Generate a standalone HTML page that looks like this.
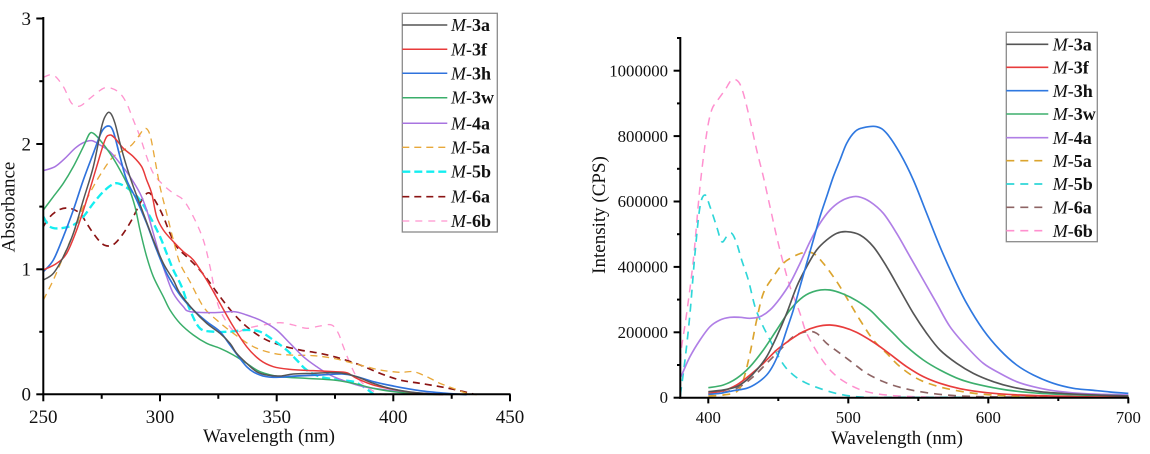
<!DOCTYPE html>
<html><head><meta charset="utf-8"><style>
html,body{margin:0;padding:0;background:#fff;}
svg{display:block;}
text{font-family:"Liberation Serif",serif;fill:#111;}
</style></head><body>
<svg id="chart" width="1150" height="454" viewBox="0 0 1150 454" xmlns="http://www.w3.org/2000/svg">
<rect width="1150" height="454" fill="#fff"/>

<!-- ===== LEFT CHART ===== -->
<g fill="none" stroke-linejoin="round" stroke-linecap="butt" transform="scale(0.333333)">
  <polyline stroke="#ff94cf" stroke-width="4" stroke-dasharray="21 18" points="130,232 160,225 190,260 215,310 240,318 270,295 310,265 335,265 360,280 380,310 400,360 420,410 440,470 460,520 490,555 520,580 550,600 580,650 610,720 630,800 650,900 670,950 705,995 740,985 790,975 840,968 880,975 920,985 960,978 995,975 1015,1000 1030,1040 1050,1090 1070,1130 1100,1160 1130,1178 1160,1185"/>
  <polyline stroke="#8b1414" stroke-width="5" stroke-dasharray="21 15" points="130,680 150,650 180,628 210,625 240,640 260,670 280,700 305,730 325,738 345,730 370,700 395,660 420,610 435,585 450,580 470,610 490,650 510,700 530,740 560,770 590,800 620,835 660,890 700,940 740,980 790,1015 840,1035 900,1050 960,1060 1020,1075 1080,1095 1140,1120 1200,1140 1260,1150 1320,1160 1370,1170 1420,1182"/>
  <polyline stroke="#14eef0" stroke-width="7" stroke-dasharray="24 12" points="130,650 150,680 180,685 220,675 250,650 280,610 310,575 340,552 360,552 390,570 420,600 450,650 480,710 500,760 520,810 545,860 570,930 600,985 640,995 690,995 740,990 780,995 820,1020 860,1050 890,1080 920,1110 960,1130 1020,1140 1060,1145 1090,1160 1120,1182"/>
  <polyline stroke="#e8a83a" stroke-width="4" stroke-dasharray="21 15" points="130,900 160,840 190,770 220,700 250,620 280,560 310,510 340,470 375,448 395,435 415,410 435,385 450,405 465,480 480,560 500,640 520,720 540,790 570,845 610,920 650,960 700,1000 760,1040 820,1060 870,1065 940,1067 1000,1075 1060,1090 1100,1100 1140,1110 1200,1117 1240,1115 1280,1130 1320,1150 1360,1165 1400,1180 1430,1184"/>
  <polyline stroke="#a874e0" stroke-width="4.5" points="130,512 165,500 195,475 225,445 250,428 275,422 300,435 330,455 360,490 390,530 420,580 440,630 460,700 480,770 500,830 520,880 550,920 570,935 640,938 700,935 740,945 790,965 830,990 870,1030 910,1070 950,1100 990,1125 1040,1145 1090,1160 1160,1170 1240,1178 1340,1183"/>
  <polyline stroke="#3aae6a" stroke-width="4.5" points="130,630 160,590 190,550 220,500 250,440 268,402 280,400 300,420 330,460 360,510 385,560 405,620 420,690 440,770 460,830 490,890 510,930 540,970 580,1005 620,1030 660,1045 700,1065 740,1090 780,1115 840,1130 920,1135 1000,1140 1060,1150 1120,1165 1180,1175 1260,1182 1330,1184"/>
  <polyline stroke="#2f72dc" stroke-width="5" points="130,815 160,780 190,710 220,630 250,540 280,460 305,395 325,378 340,395 360,470 380,540 410,600 440,670 470,750 500,820 540,885 580,930 620,965 660,995 690,1035 740,1100 780,1125 820,1132 890,1128 960,1125 1030,1122 1070,1130 1120,1145 1180,1158 1260,1172 1340,1180 1400,1184"/>
  <polyline stroke="#e83a3a" stroke-width="4.5" points="130,810 170,790 200,760 230,690 260,600 290,500 315,420 330,405 345,415 370,445 400,470 425,500 440,540 455,580 470,650 490,690 520,725 550,755 580,780 620,840 660,910 700,980 740,1040 780,1080 820,1100 870,1108 940,1112 1000,1115 1040,1118 1070,1135 1120,1155 1190,1170 1260,1180 1330,1184"/>
  <polyline stroke="#555" stroke-width="4.5" points="130,840 160,820 190,770 220,700 250,600 280,500 305,380 320,342 332,340 345,370 360,430 380,500 400,560 430,640 460,720 490,790 520,840 540,880 580,930 620,970 660,1000 690,1030 710,1060 740,1090 770,1115 800,1125 840,1128 880,1122 940,1120 990,1118 1030,1120 1070,1130 1120,1150 1170,1165 1230,1176 1300,1182 1360,1184"/>
</g>

<!-- left axes -->
<g stroke="#000" stroke-width="2" fill="none">
  <line x1="43.3" y1="17" x2="43.3" y2="395.3"/>
  <line x1="42.3" y1="394.3" x2="510.5" y2="394.3"/>
  <line x1="36.3" y1="18.5" x2="43.3" y2="18.5"/>
  <line x1="36.3" y1="144" x2="43.3" y2="144"/>
  <line x1="36.3" y1="269.3" x2="43.3" y2="269.3"/>
  <line x1="36.3" y1="394.3" x2="43.3" y2="394.3"/>
  <line x1="39.3" y1="81.2" x2="43.3" y2="81.2"/>
  <line x1="39.3" y1="206.6" x2="43.3" y2="206.6"/>
  <line x1="39.3" y1="331.8" x2="43.3" y2="331.8"/>
  <line x1="43.3" y1="394.3" x2="43.3" y2="401.3"/>
  <line x1="160" y1="394.3" x2="160" y2="401.3"/>
  <line x1="276.7" y1="394.3" x2="276.7" y2="401.3"/>
  <line x1="393.3" y1="394.3" x2="393.3" y2="401.3"/>
  <line x1="510" y1="394.3" x2="510" y2="401.3"/>
  <line x1="101.7" y1="394.3" x2="101.7" y2="398.8"/>
  <line x1="218.3" y1="394.3" x2="218.3" y2="398.8"/>
  <line x1="335" y1="394.3" x2="335" y2="398.8"/>
  <line x1="451.7" y1="394.3" x2="451.7" y2="398.8"/>
</g>
<g font-size="19">
  <text x="31" y="25" text-anchor="end">3</text>
  <text x="31" y="150.5" text-anchor="end">2</text>
  <text x="31" y="275.5" text-anchor="end">1</text>
  <text x="31" y="400.5" text-anchor="end">0</text>
  <text x="43.3" y="423" text-anchor="middle">250</text>
  <text x="160" y="423" text-anchor="middle">300</text>
  <text x="276.7" y="423" text-anchor="middle">350</text>
  <text x="393.3" y="423" text-anchor="middle">400</text>
  <text x="510" y="423" text-anchor="middle">450</text>
  <text x="269" y="442" text-anchor="middle">Wavelength (nm)</text>
  <text transform="translate(14.5,207) rotate(-90)" text-anchor="middle">Absorbance</text>
</g>

<!-- left legend -->
<rect x="402.3" y="13.3" width="95" height="218.7" fill="#fff" stroke="#8a8a8a" stroke-width="1.3"/>
<g fill="none">
  <line x1="402.3" y1="25" x2="447.3" y2="25" stroke="#555" stroke-width="1.5"/>
  <line x1="402.3" y1="49.3" x2="447.3" y2="49.3" stroke="#e83a3a" stroke-width="1.5"/>
  <line x1="402.3" y1="73.3" x2="447.3" y2="73.3" stroke="#2f72dc" stroke-width="1.5"/>
  <line x1="402.3" y1="97.7" x2="447.3" y2="97.7" stroke="#3aae6a" stroke-width="1.5"/>
  <line x1="402.3" y1="123.3" x2="447.3" y2="123.3" stroke="#a874e0" stroke-width="1.5"/>
  <line x1="402.3" y1="147.3" x2="447.3" y2="147.3" stroke="#e8a83a" stroke-width="1.3" stroke-dasharray="7 5"/>
  <line x1="402.3" y1="171.7" x2="447.3" y2="171.7" stroke="#14eef0" stroke-width="2.4" stroke-dasharray="8 4"/>
  <line x1="402.3" y1="196.7" x2="447.3" y2="196.7" stroke="#8b1414" stroke-width="1.7" stroke-dasharray="7 5"/>
  <line x1="402.3" y1="221" x2="447.3" y2="221" stroke="#ff94cf" stroke-width="1.3" stroke-dasharray="7 6"/>
</g>
<g font-size="18">
  <text x="451" y="31"><tspan font-style="italic">M</tspan>-<tspan font-weight="bold">3a</tspan></text>
  <text x="451" y="55.3"><tspan font-style="italic">M</tspan>-<tspan font-weight="bold">3f</tspan></text>
  <text x="451" y="79.3"><tspan font-style="italic">M</tspan>-<tspan font-weight="bold">3h</tspan></text>
  <text x="451" y="103.7"><tspan font-style="italic">M</tspan>-<tspan font-weight="bold">3w</tspan></text>
  <text x="451" y="129.3"><tspan font-style="italic">M</tspan>-<tspan font-weight="bold">4a</tspan></text>
  <text x="451" y="153.3"><tspan font-style="italic">M</tspan>-<tspan font-weight="bold">5a</tspan></text>
  <text x="451" y="177.7"><tspan font-style="italic">M</tspan>-<tspan font-weight="bold">5b</tspan></text>
  <text x="451" y="202.7"><tspan font-style="italic">M</tspan>-<tspan font-weight="bold">6a</tspan></text>
  <text x="451" y="227"><tspan font-style="italic">M</tspan>-<tspan font-weight="bold">6b</tspan></text>
</g>

<!-- ===== RIGHT CHART ===== -->
<g fill="none" stroke-linejoin="round" transform="translate(670,60) scale(0.333333)">
  <polyline stroke="#ff90cf" stroke-width="4.5" stroke-dasharray="24 18" points="31,905 35,860 50,760 70,600 90,380 110,220 125,150 140,125 165,90 185,60 205,65 220,100 240,180 260,270 280,350 300,440 320,530 340,610 360,680 390,760 410,820 450,890 490,940 540,975 590,995 650,1005 730,1010 830,1012 950,1012"/>
  <polyline stroke="#2fd6d8" stroke-width="5" stroke-dasharray="24 18" points="31,1005 45,900 60,760 75,580 90,440 105,405 120,440 140,500 155,545 170,530 185,520 200,550 215,600 235,660 255,740 275,790 300,840 320,880 345,920 370,945 400,965 440,982 490,998 540,1008 590,1012 700,1012 900,1012"/>
  <polyline stroke="#8e6464" stroke-width="5" stroke-dasharray="24 18" points="115,1003 170,995 210,980 250,950 290,910 330,870 370,830 410,815 440,820 470,850 510,880 550,910 590,940 640,965 690,982 750,995 830,1005 930,1010 1100,1012"/>
  <polyline stroke="#dba42e" stroke-width="5" stroke-dasharray="24 18" points="115,1008 160,1005 200,995 220,960 240,880 260,780 280,700 310,650 340,610 370,590 400,578 430,580 460,610 490,650 510,680 540,730 570,780 610,840 650,880 690,920 740,955 790,975 850,990 930,1002 1030,1008 1200,1012"/>
  <polyline stroke="#b07fe6" stroke-width="5" points="31,950 35,945 60,890 90,840 120,800 150,780 180,772 210,772 240,775 270,770 300,750 330,715 360,670 390,610 420,545 450,490 480,450 510,425 540,412 565,410 600,425 640,460 680,520 720,590 760,660 800,730 840,800 890,860 940,910 990,940 1040,965 1090,980 1150,992 1230,1000 1300,1003 1375,1005"/>
  <polyline stroke="#3daf6d" stroke-width="5" points="115,983 160,975 200,955 240,920 280,870 320,810 360,750 400,710 440,692 480,690 520,702 560,722 600,750 630,780 670,820 710,860 760,900 810,930 870,958 930,975 1010,990 1110,1000 1230,1005 1375,1008"/>
  <polyline stroke="#e83c3c" stroke-width="5" points="115,1000 160,992 200,975 240,945 280,910 320,870 360,840 400,815 440,800 480,795 520,802 560,817 600,840 630,860 670,890 710,920 760,950 810,970 870,986 950,998 1050,1005 1230,1010 1375,1011"/>
  <polyline stroke="#555" stroke-width="5" points="115,995 160,990 200,980 230,960 260,930 290,890 320,830 350,760 380,680 410,620 440,570 470,540 500,520 530,515 570,525 610,560 650,620 690,690 730,760 770,820 810,870 860,910 910,940 970,965 1030,982 1110,995 1230,1003 1375,1008"/>
  <polyline stroke="#2f78e0" stroke-width="5" points="115,1003 150,1000 190,992 230,985 260,970 290,945 310,915 330,870 350,810 370,750 390,680 410,610 430,540 450,470 470,410 490,350 510,300 530,250 555,215 580,203 620,200 650,220 690,280 730,360 770,460 810,560 850,650 890,730 940,810 990,870 1040,915 1090,945 1150,970 1210,985 1260,990 1320,996 1375,1000"/>
</g>

<!-- right axes -->
<g stroke="#000" stroke-width="2" fill="none">
  <line x1="680.3" y1="37" x2="680.3" y2="398.7"/>
  <line x1="679.3" y1="397.7" x2="1129" y2="397.7"/>
  <line x1="673.6" y1="397.7" x2="680.3" y2="397.7"/>
  <line x1="673.6" y1="332.3" x2="680.3" y2="332.3"/>
  <line x1="673.6" y1="266.9" x2="680.3" y2="266.9"/>
  <line x1="673.6" y1="201.5" x2="680.3" y2="201.5"/>
  <line x1="673.6" y1="136.1" x2="680.3" y2="136.1"/>
  <line x1="673.6" y1="70.7" x2="680.3" y2="70.7"/>
  <line x1="677" y1="365" x2="680.3" y2="365"/>
  <line x1="677" y1="299.6" x2="680.3" y2="299.6"/>
  <line x1="677" y1="234.2" x2="680.3" y2="234.2"/>
  <line x1="677" y1="168.8" x2="680.3" y2="168.8"/>
  <line x1="677" y1="103.4" x2="680.3" y2="103.4"/>
  <line x1="677" y1="38" x2="680.3" y2="38"/>
  <line x1="708.3" y1="397.7" x2="708.3" y2="403.4"/>
  <line x1="848.3" y1="397.7" x2="848.3" y2="403.4"/>
  <line x1="988.3" y1="397.7" x2="988.3" y2="403.4"/>
  <line x1="1128.3" y1="397.7" x2="1128.3" y2="403.4"/>
  <line x1="778.3" y1="397.7" x2="778.3" y2="401"/>
  <line x1="918.3" y1="397.7" x2="918.3" y2="401"/>
  <line x1="1058.3" y1="397.7" x2="1058.3" y2="401"/>
</g>
<g font-size="16.8">
  <text x="668" y="403" text-anchor="end">0</text>
  <text x="668" y="338" text-anchor="end">200000</text>
  <text x="668" y="272.6" text-anchor="end">400000</text>
  <text x="668" y="207.2" text-anchor="end">600000</text>
  <text x="668" y="141.8" text-anchor="end">800000</text>
  <text x="668" y="76.4" text-anchor="end">1000000</text>
  <text x="708.3" y="423" text-anchor="middle">400</text>
  <text x="848.3" y="423" text-anchor="middle">500</text>
  <text x="988.3" y="423" text-anchor="middle">600</text>
  <text x="1128.3" y="423" text-anchor="middle">700</text>
</g>
<g font-size="19">
  <text x="897" y="444" text-anchor="middle">Wavelength (nm)</text>
  <text transform="translate(605,215) rotate(-90)" text-anchor="middle">Intensity (CPS)</text>
</g>

<!-- right legend -->
<rect x="1006.3" y="32.3" width="91" height="209.4" fill="#fff" stroke="#8a8a8a" stroke-width="1.3"/>
<g fill="none">
  <line x1="1006.3" y1="44.3" x2="1048.3" y2="44.3" stroke="#555" stroke-width="1.6"/>
  <line x1="1006.3" y1="67.3" x2="1048.3" y2="67.3" stroke="#e83c3c" stroke-width="1.6"/>
  <line x1="1006.3" y1="90.7" x2="1048.3" y2="90.7" stroke="#2f78e0" stroke-width="1.6"/>
  <line x1="1006.3" y1="114" x2="1048.3" y2="114" stroke="#3daf6d" stroke-width="1.6"/>
  <line x1="1006.3" y1="137.7" x2="1048.3" y2="137.7" stroke="#b07fe6" stroke-width="1.6"/>
  <line x1="1006.3" y1="160.7" x2="1048.3" y2="160.7" stroke="#dba42e" stroke-width="1.7" stroke-dasharray="8 6"/>
  <line x1="1006.3" y1="184" x2="1048.3" y2="184" stroke="#2fd6d8" stroke-width="1.7" stroke-dasharray="8 6"/>
  <line x1="1006.3" y1="207.3" x2="1048.3" y2="207.3" stroke="#8e6464" stroke-width="1.7" stroke-dasharray="8 6"/>
  <line x1="1006.3" y1="230.7" x2="1048.3" y2="230.7" stroke="#ff90cf" stroke-width="1.7" stroke-dasharray="8 6"/>
</g>
<g font-size="18">
  <text x="1052.7" y="50.5"><tspan font-style="italic">M</tspan>-<tspan font-weight="bold">3a</tspan></text>
  <text x="1052.7" y="73.5"><tspan font-style="italic">M</tspan>-<tspan font-weight="bold">3f</tspan></text>
  <text x="1052.7" y="96.9"><tspan font-style="italic">M</tspan>-<tspan font-weight="bold">3h</tspan></text>
  <text x="1052.7" y="120.2"><tspan font-style="italic">M</tspan>-<tspan font-weight="bold">3w</tspan></text>
  <text x="1052.7" y="143.9"><tspan font-style="italic">M</tspan>-<tspan font-weight="bold">4a</tspan></text>
  <text x="1052.7" y="166.9"><tspan font-style="italic">M</tspan>-<tspan font-weight="bold">5a</tspan></text>
  <text x="1052.7" y="190.2"><tspan font-style="italic">M</tspan>-<tspan font-weight="bold">5b</tspan></text>
  <text x="1052.7" y="213.5"><tspan font-style="italic">M</tspan>-<tspan font-weight="bold">6a</tspan></text>
  <text x="1052.7" y="236.9"><tspan font-style="italic">M</tspan>-<tspan font-weight="bold">6b</tspan></text>
</g>
</svg>
<script>
(function(){
  var NS="http://www.w3.org/2000/svg";
  var pls=document.querySelectorAll("#chart polyline");
  for(var k=0;k<pls.length;k++){
    var pl=pls[k];
    var raw=pl.getAttribute("points").trim().split(/\s+/);
    var p=[];
    for(var i=0;i<raw.length;i++){var a=raw[i].split(",");p.push([+a[0],+a[1]]);}
    if(p.length<3) continue;
    var d="M"+p[0][0]+","+p[0][1];
    for(var i=0;i<p.length-1;i++){
      var p0=p[i>0?i-1:i],p1=p[i],p2=p[i+1],p3=p[i+2<p.length?i+2:i+1];
      var c1x=p1[0]+(p2[0]-p0[0])/6,c1y=p1[1]+(p2[1]-p0[1])/6;
      var c2x=p2[0]-(p3[0]-p1[0])/6,c2y=p2[1]-(p3[1]-p1[1])/6;
      d+=" C"+c1x.toFixed(1)+","+c1y.toFixed(1)+" "+c2x.toFixed(1)+","+c2y.toFixed(1)+" "+p2[0]+","+p2[1];
    }
    var path=document.createElementNS(NS,"path");
    for(var j=0;j<pl.attributes.length;j++){
      var at=pl.attributes[j];
      if(at.name!=="points") path.setAttribute(at.name,at.value);
    }
    path.setAttribute("d",d);
    pl.parentNode.replaceChild(path,pl);
  }
})();
</script>
</body></html>
